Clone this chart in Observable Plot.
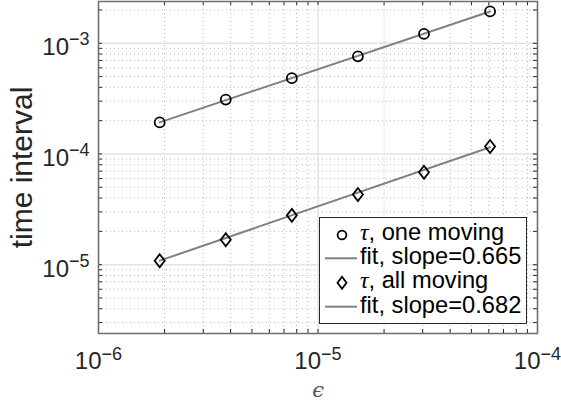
<!DOCTYPE html>
<html>
<head>
<meta charset="utf-8">
<script src="https://cdn.jsdelivr.net/npm/d3@7"></script>
<script src="https://cdn.jsdelivr.net/npm/@observablehq/plot@0.6"></script>
<style>
  html, body { margin: 0; padding: 0; background: #fff; }
  #wrap { position: relative; width: 561px; height: 406px; }
  #legend { position: absolute; left: 319px; top: 217px; width: 208px; height: 107px;
            box-sizing: border-box; border: 1px solid #262626; background: #fff; }
  #legend svg { position: absolute; left: -1px; top: -1px; overflow: visible; }
</style>
</head>
<body>
<div id="wrap"></div>
<script>
// ---- data ----
const epsilon = [1.9e-6, 3.8e-6, 7.6e-6, 1.52e-5, 3.04e-5, 6.08e-5];
const tauOneMoving = [1.93e-4, 3.10e-4, 4.84e-4, 7.62e-4, 1.216e-3, 1.94e-3];
const tauAllMoving = [1.087e-5, 1.68e-5, 2.79e-5, 4.31e-5, 6.83e-5, 1.17e-4];
const fitEpsilon = [1.9e-6, 6.08e-5];
const fitOneMoving = [1.93e-4, 1.94e-3];
const fitAllMoving = [1.087e-5, 1.15e-4];
const legendLabels = [", one moving", "fit, slope=0.665", ", all moving", "fit, slope=0.682"];

// ---- axes ----
const xDomain = [1e-6, 1e-4];
const yDomain = [2.39e-6, 2.385e-3];
const xMajor = [1e-6, 1e-5, 1e-4];
const xMajorExp = ["−6", "−5", "−4"];
const yMajor = [1e-5, 1e-4, 1e-3];
const yMajorExp = ["−5", "−4", "−3"];
const xMinor = [2e-6,3e-6,4e-6,5e-6,6e-6,7e-6,8e-6,9e-6,2e-5,3e-5,4e-5,5e-5,6e-5,7e-5,8e-5,9e-5];
const yMinor = [3e-6,4e-6,5e-6,6e-6,7e-6,8e-6,9e-6,2e-5,3e-5,4e-5,5e-5,6e-5,7e-5,8e-5,9e-5,
                2e-4,3e-4,4e-4,5e-4,6e-4,7e-4,8e-4,9e-4,2e-3];
const xTicksAll = xMajor.concat(xMinor);
const yTicksAll = yMajor.concat(yMinor);

const one = epsilon.map((e, i) => ({e, t: tauOneMoving[i]}));
const all = epsilon.map((e, i) => ({e, t: tauAllMoving[i]}));
const fitOne = fitEpsilon.map((e, i) => ({e, t: fitOneMoving[i]}));
const fitAll = fitEpsilon.map((e, i) => ({e, t: fitAllMoving[i]}));

const diamondSym = {
  draw(ctx, size) {
    const r = Math.sqrt(size / Math.PI);
    const hw = r * 1.0, hh = r * 1.3;
    ctx.moveTo(0, -hh); ctx.lineTo(hw, 0); ctx.lineTo(0, hh); ctx.lineTo(-hw, 0); ctx.closePath();
  }
};

const ink = "#262626";
const gridMinor = {stroke: "#b8b8b8", strokeWidth: 1, strokeDasharray: "1,3"};
const gridMajor = {stroke: "#e3e3e3", strokeWidth: 1.5};
const tickStyle = {stroke: ink, strokeWidth: 1};

const chart = Plot.plot({
  width: 561,
  height: 406,
  marginLeft: 98,
  marginRight: 24,
  marginTop: 1,
  marginBottom: 73,
  style: {fontFamily: "'Liberation Sans', Arial, sans-serif", color: ink, background: "#fff"},
  x: {type: "log", domain: xDomain, axis: null},
  y: {type: "log", domain: yDomain, axis: null},
  marks: [
    Plot.ruleX(xMinor, {x: d => d, ...gridMinor}),
    Plot.ruleY(yMinor, {y: d => d, ...gridMinor}),
    Plot.ruleX(xMajor, {x: d => d, ...gridMajor}),
    Plot.ruleY(yMajor, {y: d => d, ...gridMajor}),
    Plot.line(fitOne, {x: "e", y: "t", stroke: "#808080", strokeWidth: 2}),
    Plot.line(fitAll, {x: "e", y: "t", stroke: "#808080", strokeWidth: 2}),
    Plot.dot(one, {x: "e", y: "t", r: 5, symbol: "circle", stroke: "#000", strokeWidth: 1.8, fill: "none"}),
    Plot.dot(all, {x: "e", y: "t", r: 5, symbol: diamondSym, stroke: "#000", strokeWidth: 1.8, fill: "none"}),
    // inward ticks on four sides
    Plot.ruleY(yTicksAll, {y: d => d, x1: () => xDomain[0], x2: () => xDomain[0], insetRight: -4, ...tickStyle}),
    Plot.ruleY(yTicksAll, {y: d => d, x1: () => xDomain[1], x2: () => xDomain[1], insetLeft: -4, ...tickStyle}),
    Plot.ruleX(xTicksAll, {x: d => d, y1: () => yDomain[0], y2: () => yDomain[0], insetTop: -4, ...tickStyle}),
    Plot.ruleX(xTicksAll, {x: d => d, y1: () => yDomain[1], y2: () => yDomain[1], insetBottom: -4, ...tickStyle}),
    Plot.frame({stroke: "#6e6e6e", strokeWidth: 1.5}),
    // y tick labels 10^n
    Plot.text(yMajor, {y: d => d, frameAnchor: "left", text: () => "10", textAnchor: "end",
      lineAnchor: "bottom", dx: -29.5, dy: 12, fontSize: 24, fill: ink}),
    Plot.text(yMajor, {y: d => d, frameAnchor: "left", text: (d, i) => yMajorExp[i], textAnchor: "end",
      lineAnchor: "bottom", dx: -9, dy: 2, fontSize: 18, fill: ink}),
    // x tick labels
    Plot.text(xMajor, {x: d => d, frameAnchor: "bottom", text: () => "10", textAnchor: "end",
      lineAnchor: "bottom", dx: 3, dy: 35.6, fontSize: 24, fill: ink}),
    Plot.text(xMajor, {x: d => d, frameAnchor: "bottom", text: (d, i) => xMajorExp[i], textAnchor: "start",
      lineAnchor: "bottom", dx: 3, dy: 26.6, fontSize: 18, fill: ink}),
    // axis labels
    Plot.text(["ϵ"], {x: () => 1e-5, frameAnchor: "bottom", text: d => d, dy: 63, lineAnchor: "bottom",
      textAnchor: "middle", fontSize: 21, fontStyle: "italic", fontFamily: "'DejaVu Serif', serif", fill: "#555"}),
    Plot.text(["time interval"], {frameAnchor: "left", text: d => d, rotate: -90, dx: -76, textAnchor: "middle",
      lineAnchor: "middle", fontSize: 30, fill: ink})
  ]
});

const wrap = document.getElementById("wrap");
wrap.appendChild(chart);

// ---- legend ----
const legend = document.createElement("div");
legend.id = "legend";
wrap.appendChild(legend);
const ls = d3.select(legend).append("svg").attr("width", 208).attr("height", 107);
const rowBase = [23, 47.3, 71.3, 95.7];
const rowMid = [18, 41.3, 65.7, 89.7];
const fontMain = "'Liberation Sans', Arial, sans-serif";
legendLabels.forEach((lab, i) => {
  const g = ls.append("g");
  if (i === 0) {
    g.append("circle").attr("cx", 23).attr("cy", rowMid[i]).attr("r", 4.4)
      .attr("fill", "none").attr("stroke", "#000").attr("stroke-width", 1.8);
  } else if (i === 2) {
    g.append("path").attr("d", `M23,${rowMid[i]-6}L27.5,${rowMid[i]}L23,${rowMid[i]+6}L18.5,${rowMid[i]}Z`)
      .attr("fill", "none").attr("stroke", "#000").attr("stroke-width", 1.8);
  } else {
    g.append("line").attr("x1", 6).attr("x2", 38).attr("y1", rowMid[i]).attr("y2", rowMid[i])
      .attr("stroke", "#808080").attr("stroke-width", 2);
  }
  const t = g.append("text").attr("x", 41).attr("y", rowBase[i])
    .attr("font-family", fontMain).attr("font-size", 23.7).attr("fill", "#000");
  if (i === 0 || i === 2) {
    t.append("tspan").attr("font-family", "'Liberation Serif', serif").attr("font-style", "italic").text("τ");
  }
  t.append("tspan").text(lab);
});
</script>
</body>
</html>
